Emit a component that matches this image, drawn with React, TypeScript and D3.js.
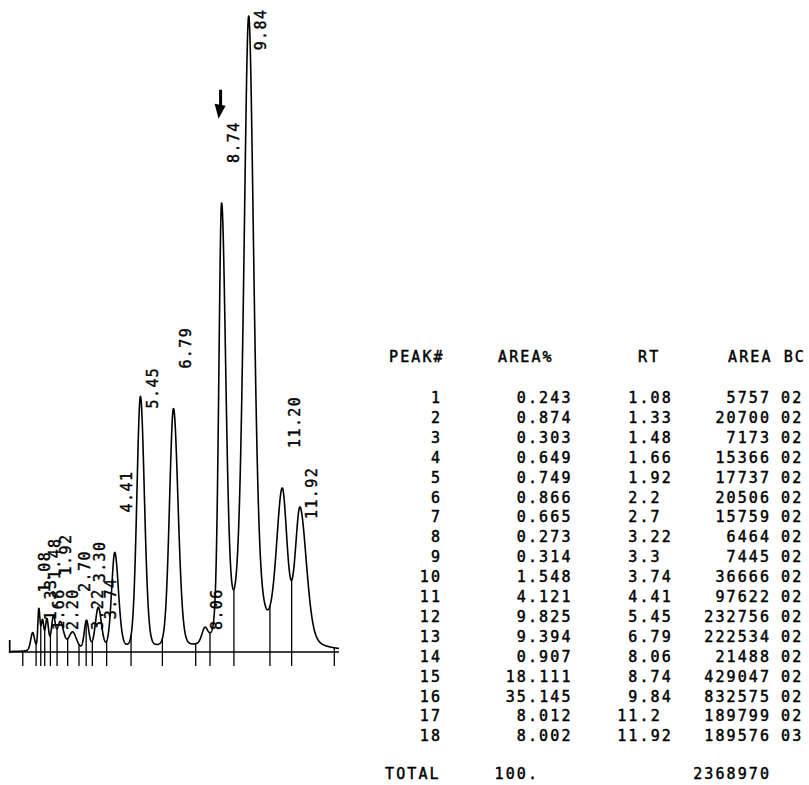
import React, { useEffect, useRef } from 'react';
import * as d3 from 'd3';

// integrator report: one entry per peak
const retTimes = [1.08, 1.33, 1.48, 1.66, 1.92, 2.2, 2.7, 3.22, 3.3, 3.74, 4.41, 5.45, 6.79, 8.06, 8.74, 9.84, 11.2, 11.92];
const areaPct = [0.243, 0.874, 0.303, 0.649, 0.749, 0.866, 0.665, 0.273, 0.314, 1.548, 4.121, 9.825, 9.394, 0.907, 18.111, 35.145, 8.012, 8.002];
const areas = [5757, 20700, 7173, 15366, 17737, 20506, 15759, 6464, 7445, 36666, 97622, 232756, 222534, 21488, 429047, 832575, 189799, 189576];
const baseCodes = ['02', '02', '02', '02', '02', '02', '02', '02', '02', '02', '02', '02', '02', '02', '02', '02', '02', '03'];
const totalPct = '100.';

// strip chart trace: peak height (signal) and half widths (min)
const peakHeights = [18, 40, 28, 30, 32, 28, 18, 16, 18, 42, 97, 253, 240, 14, 435, 630, 150, 136];
const widthLeft = [0.08, 0.04, 0.055, 0.065, 0.08, 0.12, 0.16, 0.075, 0.075, 0.12, 0.13, 0.146, 0.162, 0.12, 0.113, 0.2, 0.235, 0.2];
const widthRight = [0.08, 0.05, 0.055, 0.065, 0.08, 0.14, 0.16, 0.075, 0.09, 0.13, 0.15, 0.162, 0.186, 0.12, 0.17, 0.21, 0.2, 0.264];
const tailing = [0.25, 0.25, 0.25, 0.25, 0.25, 0.25, 0.25, 0.25, 0.25, 0.2, 0.2, 0.15, 0.15, 0.2, 0.25, 0.45, 0.3, 0.3];

// baseline event marks (peak start, valleys, end), min
const markTimes = [0.68, 1.22, 1.41, 1.57, 1.8, 2.07, 2.5, 2.96, 3.25, 3.5, 4.08, 5.07, 6.34, 7.69, 8.27, 9.24, 10.7, 11.58, 13.31];
const startTime = 0.15;
const endTime = 13.5;
const markedPeak = 8.74;

const MONO = '"DejaVu Sans Mono", "Liberation Mono", monospace';
const TABLE_FS = 15;
const TABLE_LS = 2.1;
const CH = TABLE_FS * 0.602 + TABLE_LS;
const LABEL_FS = 15;
const LABEL_LS = 1.4;
const LCH = LABEL_FS * 0.602 + LABEL_LS;

const App: React.FC = () => {
    const ref = useRef<SVGSVGElement>(null);

    useEffect(() => {
        if (!ref.current) return;
        const svg = d3.select(ref.current);
        svg.selectAll('*').remove();

        const baseY = 652;
        const x = d3.scaleLinear().domain([0, endTime]).range([6, 339]);
        const y = d3.scaleLinear().domain([0, 640]).range([baseY, baseY - 640]);

        const peak = (t: number, i: number) => {
            const d = t - retTimes[i];
            const s = d < 0 ? widthLeft[i] : widthRight[i];
            const g = Math.exp(-(d * d) / (2 * s * s));
            const l = 1 / (1 + (d / (1.1774 * s)) ** 2);
            return peakHeights[i] * ((1 - tailing[i]) * g + tailing[i] * l);
        };
        const signal = (t: number) => d3.sum(retTimes, (_, i) => peak(t, i));

        const chart = svg.append('g');

        // baseline and start mark
        chart.append('line')
            .attr('x1', x(startTime)).attr('x2', x(endTime))
            .attr('y1', baseY).attr('y2', baseY)
            .attr('stroke', '#000').attr('stroke-width', 1.7);
        chart.append('line')
            .attr('x1', x(startTime)).attr('x2', x(startTime))
            .attr('y1', baseY + 1).attr('y2', baseY - 12)
            .attr('stroke', '#000').attr('stroke-width', 1.7);

        // event marks: drop lines from below the baseline up to the trace
        chart.selectAll('.mark')
            .data(markTimes)
            .enter().append('line')
            .attr('class', 'mark')
            .attr('x1', d => x(d)).attr('x2', d => x(d))
            .attr('y1', baseY + 14)
            .attr('y2', d => y(signal(d)))
            .attr('stroke', '#000').attr('stroke-width', 1.3);

        // trace
        const ts = d3.range(startTime, endTime, 0.004);
        const line = d3.line<number>()
            .x(d => x(d))
            .y(d => y(signal(d)));
        chart.append('path')
            .attr('d', line(ts) || '')
            .attr('fill', 'none')
            .attr('stroke', '#000')
            .attr('stroke-width', 1.6)
            .attr('stroke-linejoin', 'round');

        // retention time labels, printed alternately high and low
        const labels = retTimes.map((rt, i) => {
            const text = rt.toFixed(2);
            const len = text.length * LCH - LABEL_LS;
            const apexY = y(signal(rt));
            let bottom = i % 2 === 0 ? apexY - 40 : apexY + 12;
            bottom = Math.min(bottom, baseY - 22);
            bottom = Math.max(bottom, 10 + len);
            return { rt, text, lx: x(rt) + 12, bottom, top: bottom - len };
        });

        chart.selectAll('.rtlabel')
            .data(labels)
            .enter().append('text')
            .attr('class', 'rtlabel')
            .attr('transform', d => `translate(${d.lx},${d.bottom}) rotate(-90)`)
            .attr('dy', '0.36em')
            .attr('font-family', MONO)
            .attr('font-size', LABEL_FS)
            .attr('letter-spacing', LABEL_LS)
            .attr('fill', '#000')
            .attr('stroke', '#000')
            .attr('stroke-width', 0.4)
            .text(d => d.text);

        // arrow over the peak of interest
        const m = labels.find(d => d.rt === markedPeak);
        if (m) {
            const ax = x(markedPeak) - 1;
            const tip = m.top - 4;
            chart.append('line')
                .attr('x1', ax).attr('x2', ax)
                .attr('y1', tip - 29).attr('y2', tip - 10)
                .attr('stroke', '#000').attr('stroke-width', 3);
            chart.append('path')
                .attr('d', `M${ax - 6},${tip - 15} L${ax + 5},${tip - 13} L${ax - 2},${tip} Z`)
                .attr('fill', '#000');
        }

        // report table
        const table = svg.append('g')
            .attr('font-family', MONO)
            .attr('font-size', TABLE_FS)
            .attr('letter-spacing', TABLE_LS)
            .attr('fill', '#000')
            .attr('stroke', '#000')
            .attr('stroke-width', 0.45);

        const headY = 362;
        const rowY = (i: number) => 403 + i * 19.9;
        const pctDot = 528;
        const rtDot = 639.5;
        const areaRight = 769 + TABLE_LS;

        const head = [
            { t: 'PEAK#', x: 389 },
            { t: 'AREA%', x: 498 },
            { t: 'RT', x: 638 },
            { t: 'AREA BC', x: 728 },
        ];
        table.selectAll('.head')
            .data(head)
            .enter().append('text')
            .attr('x', d => d.x).attr('y', headY)
            .attr('xml:space', 'preserve')
            .text(d => d.t);

        const dotStart = (s: string, dotX: number) => dotX - s.split('.')[0].length * CH;

        retTimes.forEach((rt, i) => {
            const yy = rowY(i);
            const pct = areaPct[i].toFixed(3);
            const rts = String(rt);
            table.append('text').attr('x', 440 + TABLE_LS).attr('y', yy)
                .attr('text-anchor', 'end').text(String(i + 1));
            table.append('text').attr('x', dotStart(pct, pctDot)).attr('y', yy).text(pct);
            table.append('text').attr('x', dotStart(rts, rtDot)).attr('y', yy).text(rts);
            table.append('text').attr('x', areaRight).attr('y', yy)
                .attr('text-anchor', 'end').text(String(areas[i]));
            table.append('text').attr('x', 781).attr('y', yy).text(baseCodes[i]);
        });

        const totalY = 779;
        table.append('text').attr('x', 385).attr('y', totalY).text('TOTAL');
        table.append('text').attr('x', dotStart(totalPct, pctDot)).attr('y', totalY).text(totalPct);
        table.append('text').attr('x', areaRight).attr('y', totalY)
            .attr('text-anchor', 'end').text(String(d3.sum(areas)));
    }, []);

    return (
        <svg ref={ref} width={809} height={785}
            style={{ position: 'absolute', left: 0, top: 0, background: '#fff' }} />
    );
};

export default App;
